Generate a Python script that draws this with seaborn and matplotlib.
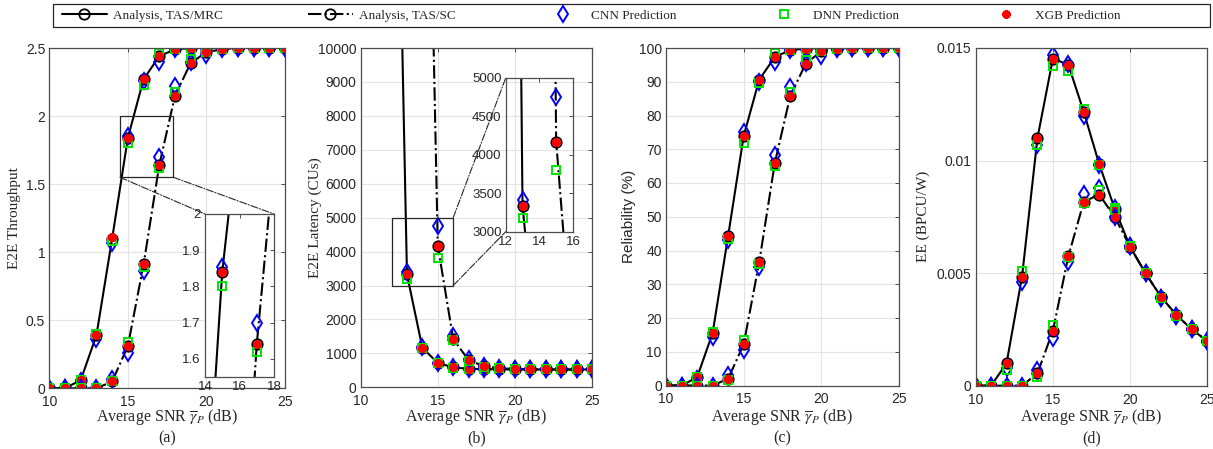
import numpy as np
import matplotlib
matplotlib.use("Agg")
import matplotlib.pyplot as plt
import seaborn as sns
from matplotlib.patches import Rectangle, ConnectionPatch
from matplotlib.ticker import FuncFormatter
from matplotlib.lines import Line2D

# ---------------- data ----------------
snr = np.arange(10, 26)

# (a) end-to-end throughput
thr_mrc = [0, 0, 0.06, 0.39, 1.10, 1.84, 2.27, 2.44, 2.49, 2.50, 2.50, 2.50, 2.50, 2.50, 2.50, 2.50]
thr_sc = [0, 0, 0, 0, 0.05, 0.31, 0.91, 1.64, 2.15, 2.39, 2.47, 2.49, 2.50, 2.50, 2.50, 2.50]
thr_mrc_cnn = [0, 0, 0.05, 0.36, 1.07, 1.855, 2.26, 2.40, 2.49, 2.50, 2.50, 2.50, 2.50, 2.50, 2.50, 2.50]
thr_sc_cnn = [0, 0, 0, 0, 0.07, 0.26, 0.86, 1.70, 2.22, 2.40, 2.45, 2.49, 2.50, 2.50, 2.50, 2.50]
thr_mrc_dnn = [0, 0, 0.06, 0.40, 1.08, 1.80, 2.23, 2.46, 2.49, 2.50, 2.50, 2.50, 2.50, 2.50, 2.50, 2.50]
thr_sc_dnn = [0, 0, 0, 0, 0.05, 0.34, 0.89, 1.62, 2.18, 2.42, 2.47, 2.49, 2.50, 2.50, 2.50, 2.50]
thr_mrc_xgb = [0, 0, 0.06, 0.39, 1.11, 1.84, 2.27, 2.44, 2.49, 2.50, 2.50, 2.50, 2.50, 2.50, 2.50, 2.50]
thr_sc_xgb = [0, 0, 0, 0, 0.05, 0.31, 0.91, 1.64, 2.15, 2.39, 2.47, 2.49, 2.50, 2.50, 2.50, 2.50]

# (b) end-to-end latency (channel uses)
lat_mrc = [5.0e5, 1.2e5, 2.55e4, 3330, 1160, 720, 585, 545, 535, 530, 525, 525, 525, 525, 525, 525]
lat_sc = [5.0e6, 1.0e6, 2.0e5, 9.0e4, 2.58e4, 4170, 1420, 800, 620, 560, 540, 530, 525, 525, 525, 525]
lat_mrc_cnn = [5.0e5, 1.2e5, 2.55e4, 3410, 1200, 720, 590, 545, 535, 530, 525, 525, 525, 525, 525, 525]
lat_sc_cnn = [5.0e6, 1.0e6, 2.0e5, 9.0e4, 2.58e4, 4750, 1500, 830, 640, 560, 540, 530, 525, 525, 525, 525]
lat_mrc_dnn = [5.0e5, 1.2e5, 2.55e4, 3180, 1150, 710, 580, 545, 535, 530, 525, 525, 525, 525, 525, 525]
lat_sc_dnn = [5.0e6, 1.0e6, 2.0e5, 9.0e4, 2.58e4, 3800, 1400, 780, 610, 555, 540, 530, 525, 525, 525, 525]
lat_mrc_xgb = [5.0e5, 1.2e5, 2.55e4, 3330, 1160, 720, 585, 545, 535, 530, 525, 525, 525, 525, 525, 525]
lat_sc_xgb = [5.0e6, 1.0e6, 2.0e5, 9.0e4, 2.58e4, 4170, 1420, 800, 620, 560, 540, 530, 525, 525, 525, 525]

# (c) reliability (%)
rel_mrc = [0, 0, 2.4, 15.5, 44.3, 73.9, 90.6, 97.3, 99.4, 99.8, 100, 100, 100, 100, 100, 100]
rel_sc = [0, 0, 0, 0, 2.0, 12.2, 36.5, 65.8, 85.8, 95.4, 99.0, 99.7, 100, 100, 100, 100]
rel_mrc_cnn = [0, 0, 2.0, 14.5, 43.0, 75.0, 90.0, 96.0, 99.5, 99.8, 100, 100, 100, 100, 100, 100]
rel_sc_cnn = [0, 0, 0, 0, 3.0, 10.5, 35.0, 68.3, 88.5, 95.5, 97.5, 99.7, 100, 100, 100, 100]
rel_mrc_dnn = [0, 0, 2.5, 16.0, 43.5, 72.0, 89.5, 98.5, 99.4, 99.8, 100, 100, 100, 100, 100, 100]
rel_sc_dnn = [0, 0, 0, 0, 1.5, 13.5, 36.0, 65.0, 87.0, 96.5, 99.0, 99.7, 100, 100, 100, 100]
rel_mrc_xgb = [0, 0, 2.4, 15.5, 44.3, 73.9, 90.6, 97.3, 99.4, 99.8, 100, 100, 100, 100, 100, 100]
rel_sc_xgb = [0, 0, 0, 0, 2.0, 12.2, 36.5, 65.8, 85.8, 95.4, 99.0, 99.7, 100, 100, 100, 100]

# (d) energy efficiency (BPCU/W)
ee_mrc = [0, 0, 0.0010, 0.00484, 0.0110, 0.01453, 0.01426, 0.01216, 0.00984, 0.00787,
          0.00617, 0.00499, 0.00395, 0.00314, 0.00250, 0.00198]
ee_sc = [0, 0, 0, 0, 0.00055, 0.00244, 0.00575, 0.00817, 0.00849, 0.00750,
         0.00617, 0.00499, 0.00395, 0.00314, 0.00250, 0.00198]
ee_mrc_cnn = [0, 0, 0.0008, 0.0046, 0.0107, 0.0147, 0.0143, 0.0120, 0.0098, 0.0079,
              0.0062, 0.0050, 0.0039, 0.0031, 0.0025, 0.00198]
ee_sc_cnn = [0, 0, 0, 0, 0.0007, 0.0021, 0.0055, 0.0085, 0.0088, 0.0075,
             0.0062, 0.0050, 0.0039, 0.0031, 0.0025, 0.00198]
ee_mrc_dnn = [0, 0, 0.0007, 0.0051, 0.0107, 0.0142, 0.0140, 0.0123, 0.0098, 0.0079,
              0.0062, 0.0050, 0.0039, 0.0031, 0.0025, 0.00198]
ee_sc_dnn = [0, 0, 0, 0, 0.0004, 0.0027, 0.0057, 0.0081, 0.0087, 0.0078,
             0.0062, 0.0050, 0.0039, 0.0031, 0.0025, 0.00198]
ee_mrc_xgb = ee_mrc
ee_sc_xgb = ee_sc

legend_labels = ["Analysis, TAS/MRC", "Analysis, TAS/SC", "CNN Prediction",
                 "DNN Prediction", "XGB Prediction"]
x_label = r"Average SNR $\overline{\gamma}_P$ (dB)"

# ---------------- style ----------------
sns.set_theme(style="white")
plt.rcParams["font.family"] = ["Liberation Sans", "DejaVu Sans"]
plt.rcParams["mathtext.fontset"] = "stix"
SERIF = ["Liberation Serif", "DejaVu Serif"]
AX_COLOR = "#4d4d4d"
TXT_COLOR = "#262626"

W, H = 1213, 449
fig = plt.figure(figsize=(W / 100, H / 100), dpi=100)


def px_axes(left, right, top, bottom):
    return fig.add_axes([left / W, 1 - bottom / H, (right - left) / W, (bottom - top) / H])


def style_axes(ax, tick_size=10, grid=True):
    for s in ax.spines.values():
        s.set_visible(True)
        s.set_color(AX_COLOR)
        s.set_linewidth(0.9)
    ax.tick_params(direction="in", length=3, width=0.7, color=AX_COLOR,
                   labelcolor=TXT_COLOR, labelsize=tick_size, top=True, right=True)
    ax.tick_params(axis="x", pad=5)
    ax.tick_params(axis="y", pad=3)
    if grid:
        ax.grid(True, color="#e3e3e3", linewidth=0.8)
        ax.set_axisbelow(True)
    else:
        ax.grid(False)


def draw_series(ax, x, ana, cnn, dnn, xgb, ls):
    sns.lineplot(x=x, y=ana, ax=ax, color="black", linestyle=ls, linewidth=1.5,
                 marker="o", markersize=7.5, markerfacecolor="none",
                 markeredgecolor="black", markeredgewidth=1.3,
                 estimator=None, sort=False, legend=False)
    sns.lineplot(x=x, y=cnn, ax=ax, linestyle="none", marker="d", markersize=8.5,
                 markerfacecolor="none", markeredgecolor="#0000ff", markeredgewidth=1.4,
                 color="#0000ff", estimator=None, sort=False, legend=False)
    sns.lineplot(x=x, y=dnn, ax=ax, linestyle="none", marker="s", markersize=5.5,
                 markerfacecolor="none", markeredgecolor="#00e600", markeredgewidth=1.4,
                 color="#00e600", estimator=None, sort=False, legend=False)
    sns.lineplot(x=x, y=xgb, ax=ax, linestyle="none", marker=(8, 2, 0), markersize=6,
                 markeredgecolor="#ff0000", markerfacecolor="#ff0000", markeredgewidth=2.3,
                 color="#ff0000", estimator=None, sort=False, legend=False)


gfmt = FuncFormatter(lambda v, p: "%g" % v)

panels = [
    dict(pos=(49.3, 285.0, 48, 388.3), mrc=(thr_mrc, thr_mrc_cnn, thr_mrc_dnn, thr_mrc_xgb),
         sc=(thr_sc, thr_sc_cnn, thr_sc_dnn, thr_sc_xgb), ylim=(0, 2.5),
         yticks=np.arange(0, 2.51, 0.5), ylabel="E2E Throughput", yfont=SERIF, ylx=15, cap="(a)"),
    dict(pos=(360.7, 592.0, 48, 387.3), mrc=(lat_mrc, lat_mrc_cnn, lat_mrc_dnn, lat_mrc_xgb),
         sc=(lat_sc, lat_sc_cnn, lat_sc_dnn, lat_sc_xgb), ylim=(0, 10000),
         yticks=np.arange(0, 10001, 1000), ylabel="E2E Latency (CUs)", yfont=SERIF, ylx=315, cap="(b)"),
    dict(pos=(666.0, 899.0, 48, 385.5), mrc=(rel_mrc, rel_mrc_cnn, rel_mrc_dnn, rel_mrc_xgb),
         sc=(rel_sc, rel_sc_cnn, rel_sc_dnn, rel_sc_xgb), ylim=(0, 100),
         yticks=np.arange(0, 101, 10), ylabel="Reliability (%)", yfont=["Liberation Sans"], ylx=629, cap="(c)"),
    dict(pos=(975.7, 1207.3, 48, 385.7), mrc=(ee_mrc, ee_mrc_cnn, ee_mrc_dnn, ee_mrc_xgb),
         sc=(ee_sc, ee_sc_cnn, ee_sc_dnn, ee_sc_xgb), ylim=(0, 0.015),
         yticks=[0, 0.005, 0.01, 0.015], ylabel="EE (BPCU/W)", yfont=SERIF, ylx=923, cap="(d)"),
]

axes = []
for p in panels:
    l, r, t, b = p["pos"]
    ax = px_axes(l, r, t, b)
    draw_series(ax, snr, *p["mrc"], "-")
    draw_series(ax, snr, *p["sc"], "-.")
    ax.set_xlim(10, 25)
    ax.set_ylim(*p["ylim"])
    ax.set_xticks([10, 15, 20, 25])
    ax.set_yticks(p["yticks"])
    ax.yaxis.set_major_formatter(gfmt)
    style_axes(ax)
    ax.set_xlabel(x_label, fontsize=11.5, family=SERIF, color=TXT_COLOR)
    ax.xaxis.set_label_coords(0.5, -(407 - b) / (b - t))
    ax.set_ylabel(p["ylabel"], fontsize=11, family=p["yfont"], color=TXT_COLOR)
    ax.yaxis.set_label_coords((p["ylx"] - l) / (r - l), 0.5)
    ax.yaxis.label.set_va("center")
    fig.text(((l + r) / 2) / W, 1 - 438 / H, p["cap"], ha="center", va="center",
             fontsize=11.5, family=SERIF, color=TXT_COLOR)
    axes.append(ax)

# zoomed views
zoom_a = dict(rect=(14.5, 17.9, 1.55, 2.0), xlim=(14, 18), ylim=(1.55, 2.0))
zoom_b = dict(rect=(12.0, 16.0, 3000, 5000), xlim=(12, 16), ylim=(3000, 5000))

ins_a = px_axes(205, 274, 214, 377)
draw_series(ins_a, snr, *panels[0]["mrc"], "-")
draw_series(ins_a, snr, *panels[0]["sc"], "-.")
ins_a.set_xlim(*zoom_a["xlim"])
ins_a.set_ylim(*zoom_a["ylim"])
ins_a.set_xticks([14, 16, 18])
ins_a.set_yticks([1.6, 1.7, 1.8, 1.9, 2.0])
ins_a.yaxis.set_major_formatter(gfmt)
style_axes(ins_a, tick_size=9.5, grid=False)
ins_a.tick_params(axis="x", pad=3)
ins_a.set_facecolor("white")

ins_b = px_axes(505.7, 573, 78, 231.7)
draw_series(ins_b, snr, *panels[1]["mrc"], "-")
draw_series(ins_b, snr, *panels[1]["sc"], "-.")
ins_b.set_xlim(*zoom_b["xlim"])
ins_b.set_ylim(*zoom_b["ylim"])
ins_b.set_xticks([12, 14, 16])
ins_b.set_yticks([3000, 3500, 4000, 4500, 5000])
ins_b.yaxis.set_major_formatter(gfmt)
style_axes(ins_b, tick_size=9.5, grid=False)
ins_b.tick_params(axis="x", pad=3)
ins_b.patch.set_alpha(0)

for ax in (ins_a, ins_b):
    ax.set_xlabel("")
    ax.set_ylabel("")


def zoom_box(ax, ins, z, corners):
    x0, x1, y0, y1 = z["rect"]
    ax.add_patch(Rectangle((x0, y0), x1 - x0, y1 - y0, fill=False,
                           edgecolor=TXT_COLOR, linewidth=0.9, zorder=5))
    for (xa, ya), (xb, yb) in corners:
        con = ConnectionPatch(xyA=(xa, ya), coordsA=ax.transData,
                              xyB=(xb, yb), coordsB=ins.transAxes,
                              linestyle="-.", color=TXT_COLOR, linewidth=0.8)
        fig.add_artist(con)


x0, x1, y0, y1 = zoom_a["rect"]
zoom_box(axes[0], ins_a, zoom_a, [((x0, y0), (0, 1)), ((x1, y0), (1, 1))])
x0, x1, y0, y1 = zoom_b["rect"]
zoom_box(axes[1], ins_b, zoom_b, [((x1, y1), (0, 1)), ((x1, y0), (0, 0))])

# shared legend across the top
handles = [
    Line2D([], [], color="black", linestyle="-", linewidth=1.5, marker="o", markersize=7.5,
           markerfacecolor="none", markeredgewidth=1.3),
    Line2D([], [], color="black", linestyle="-.", linewidth=1.5, marker="o", markersize=7.5,
           markerfacecolor="none", markeredgewidth=1.3),
    Line2D([], [], linestyle="none", marker="d", markersize=8.5, markerfacecolor="none",
           markeredgecolor="#0000ff", markeredgewidth=1.4),
    Line2D([], [], linestyle="none", marker="s", markersize=5.5, markerfacecolor="none",
           markeredgecolor="#00e600", markeredgewidth=1.4),
    Line2D([], [], linestyle="none", marker=(8, 2, 0), markersize=6,
           markeredgecolor="#ff0000", markeredgewidth=2.0),
]
fig.legend(handles, legend_labels, loc="center left", bbox_to_anchor=(62 / W, 1 - 15.5 / H),
           ncol=5, frameon=False, borderpad=0, borderaxespad=0, handlelength=3.4,
           handletextpad=0.45, columnspacing=6.45, prop={"family": SERIF, "size": 9.5})
fig.patches.append(Rectangle((53 / W, 1 - 27 / H), (1210 - 53) / W, 23 / H, fill=False,
                             edgecolor=TXT_COLOR, linewidth=0.9, transform=fig.transFigure))

fig.savefig("out.png", dpi=100)
